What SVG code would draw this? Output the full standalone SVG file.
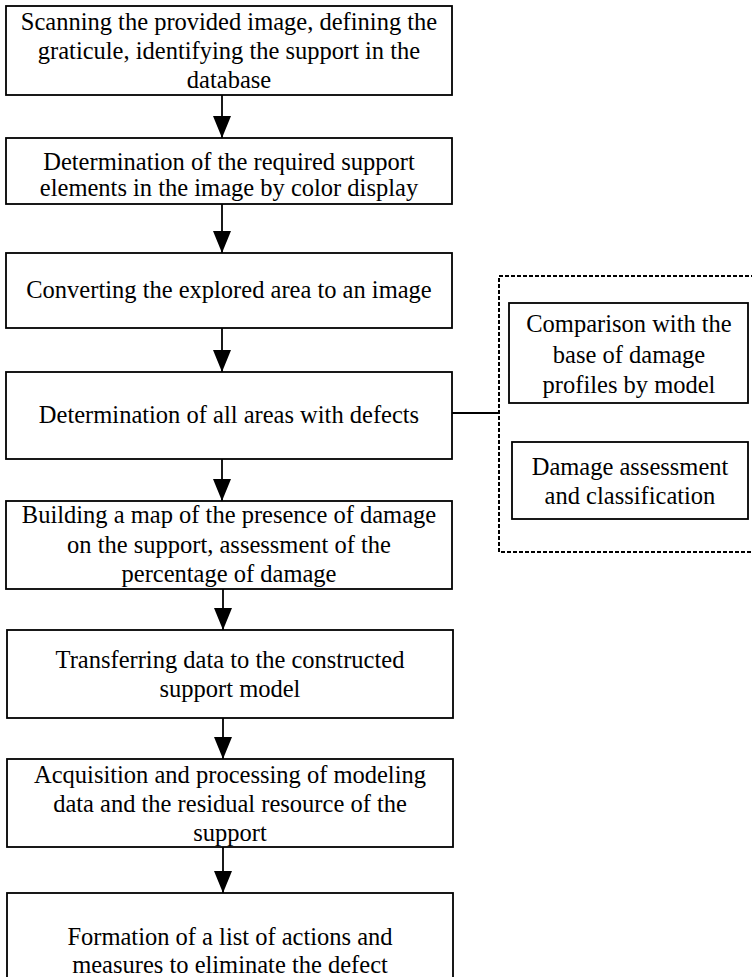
<svg xmlns="http://www.w3.org/2000/svg" width="752" height="977" viewBox="0 0 752 977">
<defs>
<marker id="arr" viewBox="0 -9 22 18" refX="22" refY="0" markerWidth="22" markerHeight="18" markerUnits="userSpaceOnUse" orient="auto">
<path d="M0,-9 L22,0 L0,9 z" fill="#000"/>
</marker>
</defs>
<style>
.box{fill:#fff;stroke:#000;stroke-width:1.8}
.dash{fill:none;stroke:#000;stroke-width:2;stroke-dasharray:4 2}
.t{font-size:24.5px;fill:#000;text-anchor:middle}
.c{stroke:#000;stroke-width:1.8;fill:none}
</style>
<rect width="752" height="977" fill="#fff"/>
<g id="connectors">
<line class="c" x1="222" y1="95" x2="222" y2="138" marker-end="url(#arr)"/>
<line class="c" x1="222" y1="204" x2="222" y2="253" marker-end="url(#arr)"/>
<line class="c" x1="222" y1="328" x2="222" y2="372" marker-end="url(#arr)"/>
<line class="c" x1="222" y1="459" x2="222" y2="501" marker-end="url(#arr)"/>
<line class="c" x1="223" y1="589" x2="223" y2="630" marker-end="url(#arr)"/>
<line class="c" x1="223" y1="718" x2="223" y2="759" marker-end="url(#arr)"/>
<line class="c" x1="223" y1="847" x2="223" y2="893" marker-end="url(#arr)"/>
<line class="c" x1="452" y1="413" x2="499" y2="413"/>
</g>
<g font-family="'Liberation Serif', 'Times New Roman', serif">
<g id="n1">
<rect class="box" x="6" y="6" width="446" height="89"/>
<text class="t" x="229" y="30">Scanning the provided image, defining the</text>
<text class="t" x="229" y="59">graticule, identifying the support in the</text>
<text class="t" x="229" y="88">database</text>
</g>
<g id="n2">
<rect class="box" x="6" y="138" width="446" height="66"/>
<text class="t" x="229" y="170">Determination of the required support</text>
<text class="t" x="229" y="196">elements in the image by color display</text>
</g>
<g id="n3">
<rect class="box" x="6" y="253" width="446" height="75"/>
<text class="t" x="229" y="298">Converting the explored area to an image</text>
</g>
<g id="n4">
<rect class="box" x="6" y="372" width="446" height="87"/>
<text class="t" x="229" y="423">Determination of all areas with defects</text>
</g>
<g id="n5">
<rect class="box" x="6" y="501" width="446" height="88"/>
<text class="t" x="229" y="523">Building a map of the presence of damage</text>
<text class="t" x="229" y="553">on the support, assessment of the</text>
<text class="t" x="229" y="582">percentage of damage</text>
</g>
<g id="n6">
<rect class="box" x="7" y="630" width="446" height="88"/>
<text class="t" x="230" y="668">Transferring data to the constructed</text>
<text class="t" x="230" y="697">support model</text>
</g>
<g id="n7">
<rect class="box" x="7" y="759" width="446" height="88"/>
<text class="t" x="230" y="783">Acquisition and processing of modeling</text>
<text class="t" x="230" y="812">data and the residual resource of the</text>
<text class="t" x="230" y="841">support</text>
</g>
<g id="n8">
<rect class="box" x="7" y="893" width="446" height="100"/>
<text class="t" x="230" y="945">Formation of a list of actions and</text>
<text class="t" x="230" y="973">measures to eliminate the defect</text>
</g>
<g id="group">
<rect class="dash" x="499" y="276" width="270" height="276"/>
</g>
<g id="n9">
<rect class="box" x="509" y="303" width="239" height="100"/>
<text class="t" x="629" y="332">Comparison with the</text>
<text class="t" x="629" y="363">base of damage</text>
<text class="t" x="629" y="393">profiles by model</text>
</g>
<g id="n10">
<rect class="box" x="512" y="442" width="236" height="77"/>
<text class="t" x="630" y="475">Damage assessment</text>
<text class="t" x="630" y="504">and classification</text>
</g>
</g>
</svg>
